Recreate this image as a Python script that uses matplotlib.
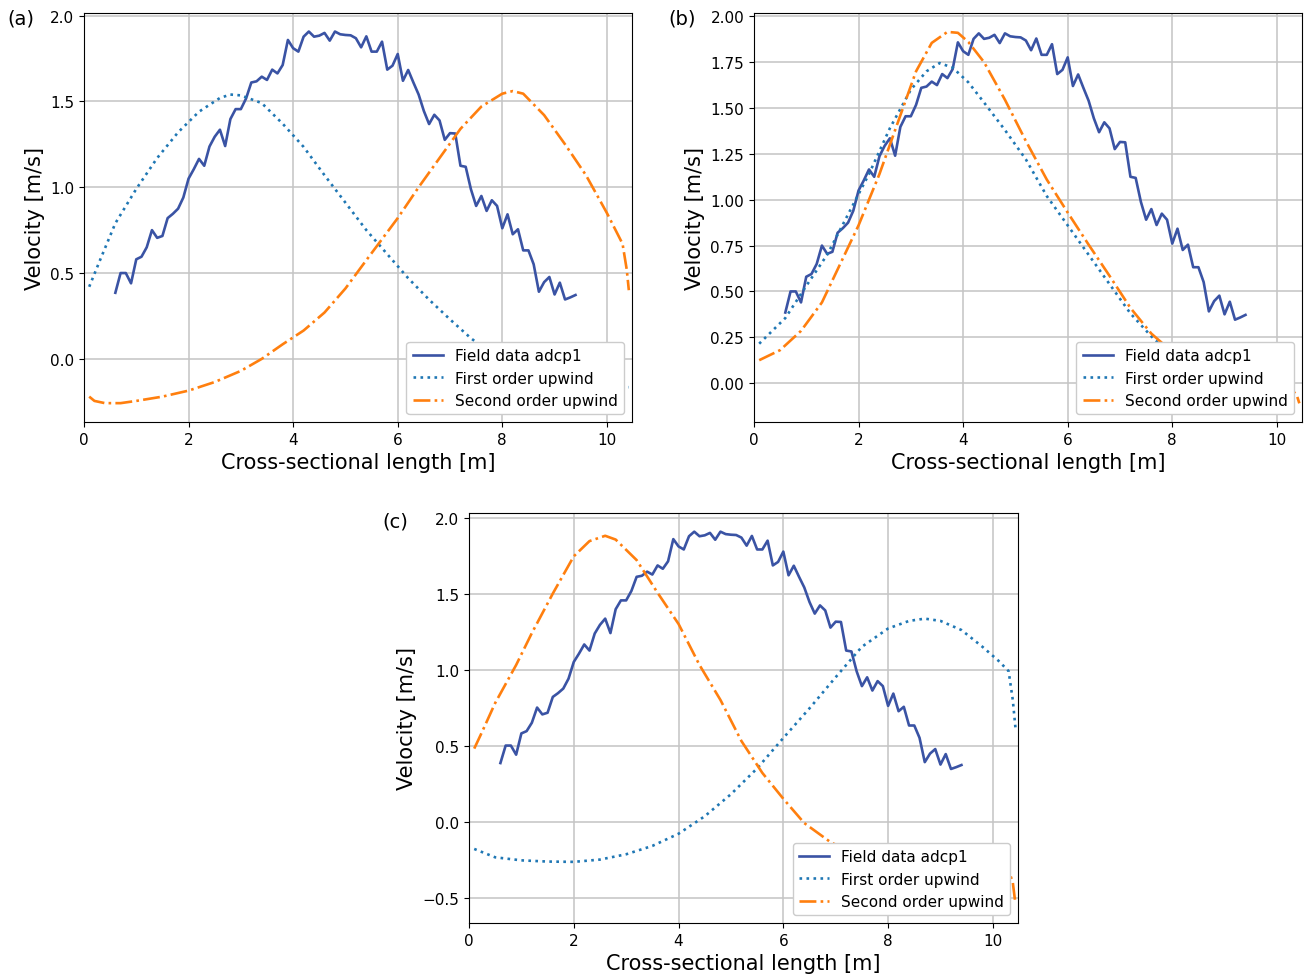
import numpy as np
import matplotlib
matplotlib.use("Agg")
import matplotlib.pyplot as plt

# field measurements (same in all three panels), sampled every 0.1 m from 0.6 to 9.4 m
field_x = np.linspace(0.6, 9.4, 89)
field_v = [0.385, 0.50, 0.50, 0.44, 0.58, 0.595, 0.65, 0.75, 0.705, 0.716,
           0.82, 0.845, 0.875, 0.94, 1.05, 1.105, 1.165, 1.125, 1.237, 1.294,
           1.335, 1.24, 1.397, 1.455, 1.455, 1.517, 1.61, 1.617, 1.644, 1.625,
           1.685, 1.663, 1.712, 1.858, 1.81, 1.79, 1.877, 1.907, 1.877, 1.883,
           1.899, 1.854, 1.907, 1.891, 1.887, 1.885, 1.868, 1.815, 1.879, 1.79,
           1.79, 1.848, 1.685, 1.708, 1.776, 1.62, 1.683, 1.61, 1.54, 1.444,
           1.368, 1.422, 1.389, 1.276, 1.315, 1.313, 1.125, 1.119, 0.988, 0.891,
           0.949, 0.862, 0.924, 0.891, 0.761, 0.842, 0.726, 0.755, 0.632, 0.632,
           0.551, 0.391, 0.447, 0.477, 0.375, 0.444, 0.346, 0.358, 0.372]

# panel (a)
a_first_x = [0.1, 0.3, 0.6, 1.0, 1.4, 1.8, 2.2, 2.6, 2.8, 3.0, 3.4, 3.8, 4.2, 4.6, 5.0,
             5.4, 5.8, 6.2, 6.6, 7.0, 7.4, 7.8, 8.2, 8.6, 9.0, 9.4, 9.8, 10.2, 10.42]
a_first_v = [0.42, 0.57, 0.79, 0.99, 1.17, 1.32, 1.44, 1.52, 1.54, 1.535, 1.49, 1.37,
             1.235, 1.07, 0.91, 0.75, 0.61, 0.47, 0.345, 0.23, 0.12, 0.03, -0.04, -0.09,
             -0.13, -0.155, -0.17, -0.17, -0.165]
a_second_x = [0.1, 0.2, 0.4, 0.7, 1.0, 1.5, 2.0, 2.5, 3.0, 3.4, 3.8, 4.2, 4.6, 5.0, 5.4,
              6.0, 6.4, 6.8, 7.2, 7.6, 8.0, 8.2, 8.4, 8.8, 9.2, 9.6, 10.0, 10.3, 10.38,
              10.42]
a_second_v = [-0.22, -0.245, -0.258, -0.258, -0.245, -0.22, -0.185, -0.135, -0.07, 0.0,
              0.085, 0.165, 0.27, 0.41, 0.575, 0.82, 1.0, 1.17, 1.34, 1.47, 1.545, 1.56,
              1.545, 1.42, 1.25, 1.07, 0.85, 0.67, 0.52, 0.40]

# panel (b)
b_first_x = [0.1, 0.6, 1.0, 1.4, 1.8, 2.2, 2.6, 3.0, 3.3, 3.55, 3.8, 4.1, 4.4, 4.8, 5.2,
             5.6, 6.0, 6.4, 6.8, 7.2, 7.6, 8.0, 8.4, 8.8, 9.2, 9.6, 10.0, 10.3]
b_first_v = [0.215, 0.355, 0.53, 0.70, 0.92, 1.14, 1.39, 1.60, 1.70, 1.745, 1.72, 1.64,
             1.53, 1.38, 1.22, 1.02, 0.86, 0.70, 0.54, 0.38, 0.255, 0.15, 0.06, -0.01,
             -0.06, -0.09, -0.105, -0.11]
b_second_x = [0.1, 0.5, 0.9, 1.3, 1.7, 2.0, 2.4, 2.8, 3.1, 3.4, 3.7, 3.9, 4.1, 4.4, 4.8,
              5.2, 5.6, 6.0, 6.4, 6.8, 7.2, 7.6, 8.0, 8.4, 8.8, 9.2, 9.6, 10.0, 10.3,
              10.38, 10.43]
b_second_v = [0.125, 0.18, 0.285, 0.44, 0.68, 0.86, 1.14, 1.46, 1.70, 1.855, 1.915, 1.91,
              1.86, 1.75, 1.545, 1.32, 1.11, 0.93, 0.755, 0.585, 0.41, 0.27, 0.17, 0.09,
              0.03, -0.01, -0.03, -0.04, -0.04, -0.065, -0.11]

# panel (c)
c_first_x = [0.1, 0.5, 1.0, 1.5, 2.0, 2.5, 3.0, 3.5, 4.0, 4.5, 5.0, 5.5, 6.0, 6.5, 7.0,
             7.5, 8.0, 8.4, 8.7, 9.0, 9.4, 9.8, 10.1, 10.3, 10.38, 10.43]
c_first_v = [-0.18, -0.235, -0.255, -0.263, -0.265, -0.25, -0.215, -0.16, -0.08, 0.035,
             0.18, 0.35, 0.55, 0.745, 0.95, 1.15, 1.27, 1.32, 1.335, 1.32, 1.26, 1.15,
             1.06, 0.99, 0.80, 0.62]
c_second_x = [0.1, 0.25, 0.5, 0.9, 1.2, 1.6, 2.0, 2.3, 2.6, 2.8, 3.2, 3.6, 4.0, 4.4, 4.8,
              5.2, 5.6, 6.0, 6.4, 6.9, 7.4, 7.8, 8.2, 8.6, 9.0, 9.6, 10.0, 10.3, 10.38,
              10.43]
c_second_v = [0.48, 0.59, 0.78, 1.03, 1.24, 1.50, 1.745, 1.845, 1.88, 1.855, 1.72, 1.505,
              1.30, 1.03, 0.80, 0.53, 0.32, 0.15, -0.01, -0.135, -0.22, -0.28, -0.32,
              -0.35, -0.36, -0.355, -0.34, -0.32, -0.40, -0.54]

panels = [
    ("(a)", a_first_x, a_first_v, a_second_x, a_second_v, (-0.368, 2.015), [0.0, 0.5, 1.0, 1.5, 2.0]),
    ("(b)", b_first_x, b_first_v, b_second_x, b_second_v, (-0.212, 2.018), [0.0, 0.25, 0.5, 0.75, 1.0, 1.25, 1.5, 1.75, 2.0]),
    ("(c)", c_first_x, c_first_v, c_second_x, c_second_v, (-0.667, 2.03), [-0.5, 0.0, 0.5, 1.0, 1.5, 2.0]),
]

fig = plt.figure(figsize=(13.06, 9.79), dpi=100)
rects = [[0.0643, 0.5679, 0.4196, 0.4178],
         [0.5773, 0.5679, 0.4196, 0.4178],
         [0.3591, 0.0562, 0.4204, 0.4188]]
label_pos = [(0.006, 0.981), (0.512, 0.981), (0.293, 0.467)]

for rect, lp, (tag, fx, fv, sx, sv, ylim, yticks) in zip(rects, label_pos, panels):
    ax = fig.add_axes(rect)
    ax.grid(True, color="#c4c4c4", lw=1.1)
    ax.set_axisbelow(True)
    ax.plot(field_x, field_v, color="#3a53a4", lw=1.9, label="Field data adcp1")
    ax.plot(fx, fv, color="#1f77b4", lw=1.9, ls=":", label="First order upwind")
    ax.plot(sx, sv, color="#ff7f0e", lw=1.9, ls="-.", label="Second order upwind")
    ax.set_xlim(0, 10.48)
    ax.set_ylim(*ylim)
    ax.set_xticks([0, 2, 4, 6, 8, 10])
    ax.set_yticks(yticks)
    ax.tick_params(labelsize=11)
    ax.set_xlabel("Cross-sectional length [m]", fontsize=15)
    ax.set_ylabel("Velocity [m/s]", fontsize=15)
    ax.legend(loc="lower right", fontsize=11, framealpha=1.0)
    fig.text(lp[0], lp[1], tag, fontsize=14, ha="left", va="center")

fig.savefig("out.png", dpi=100)
